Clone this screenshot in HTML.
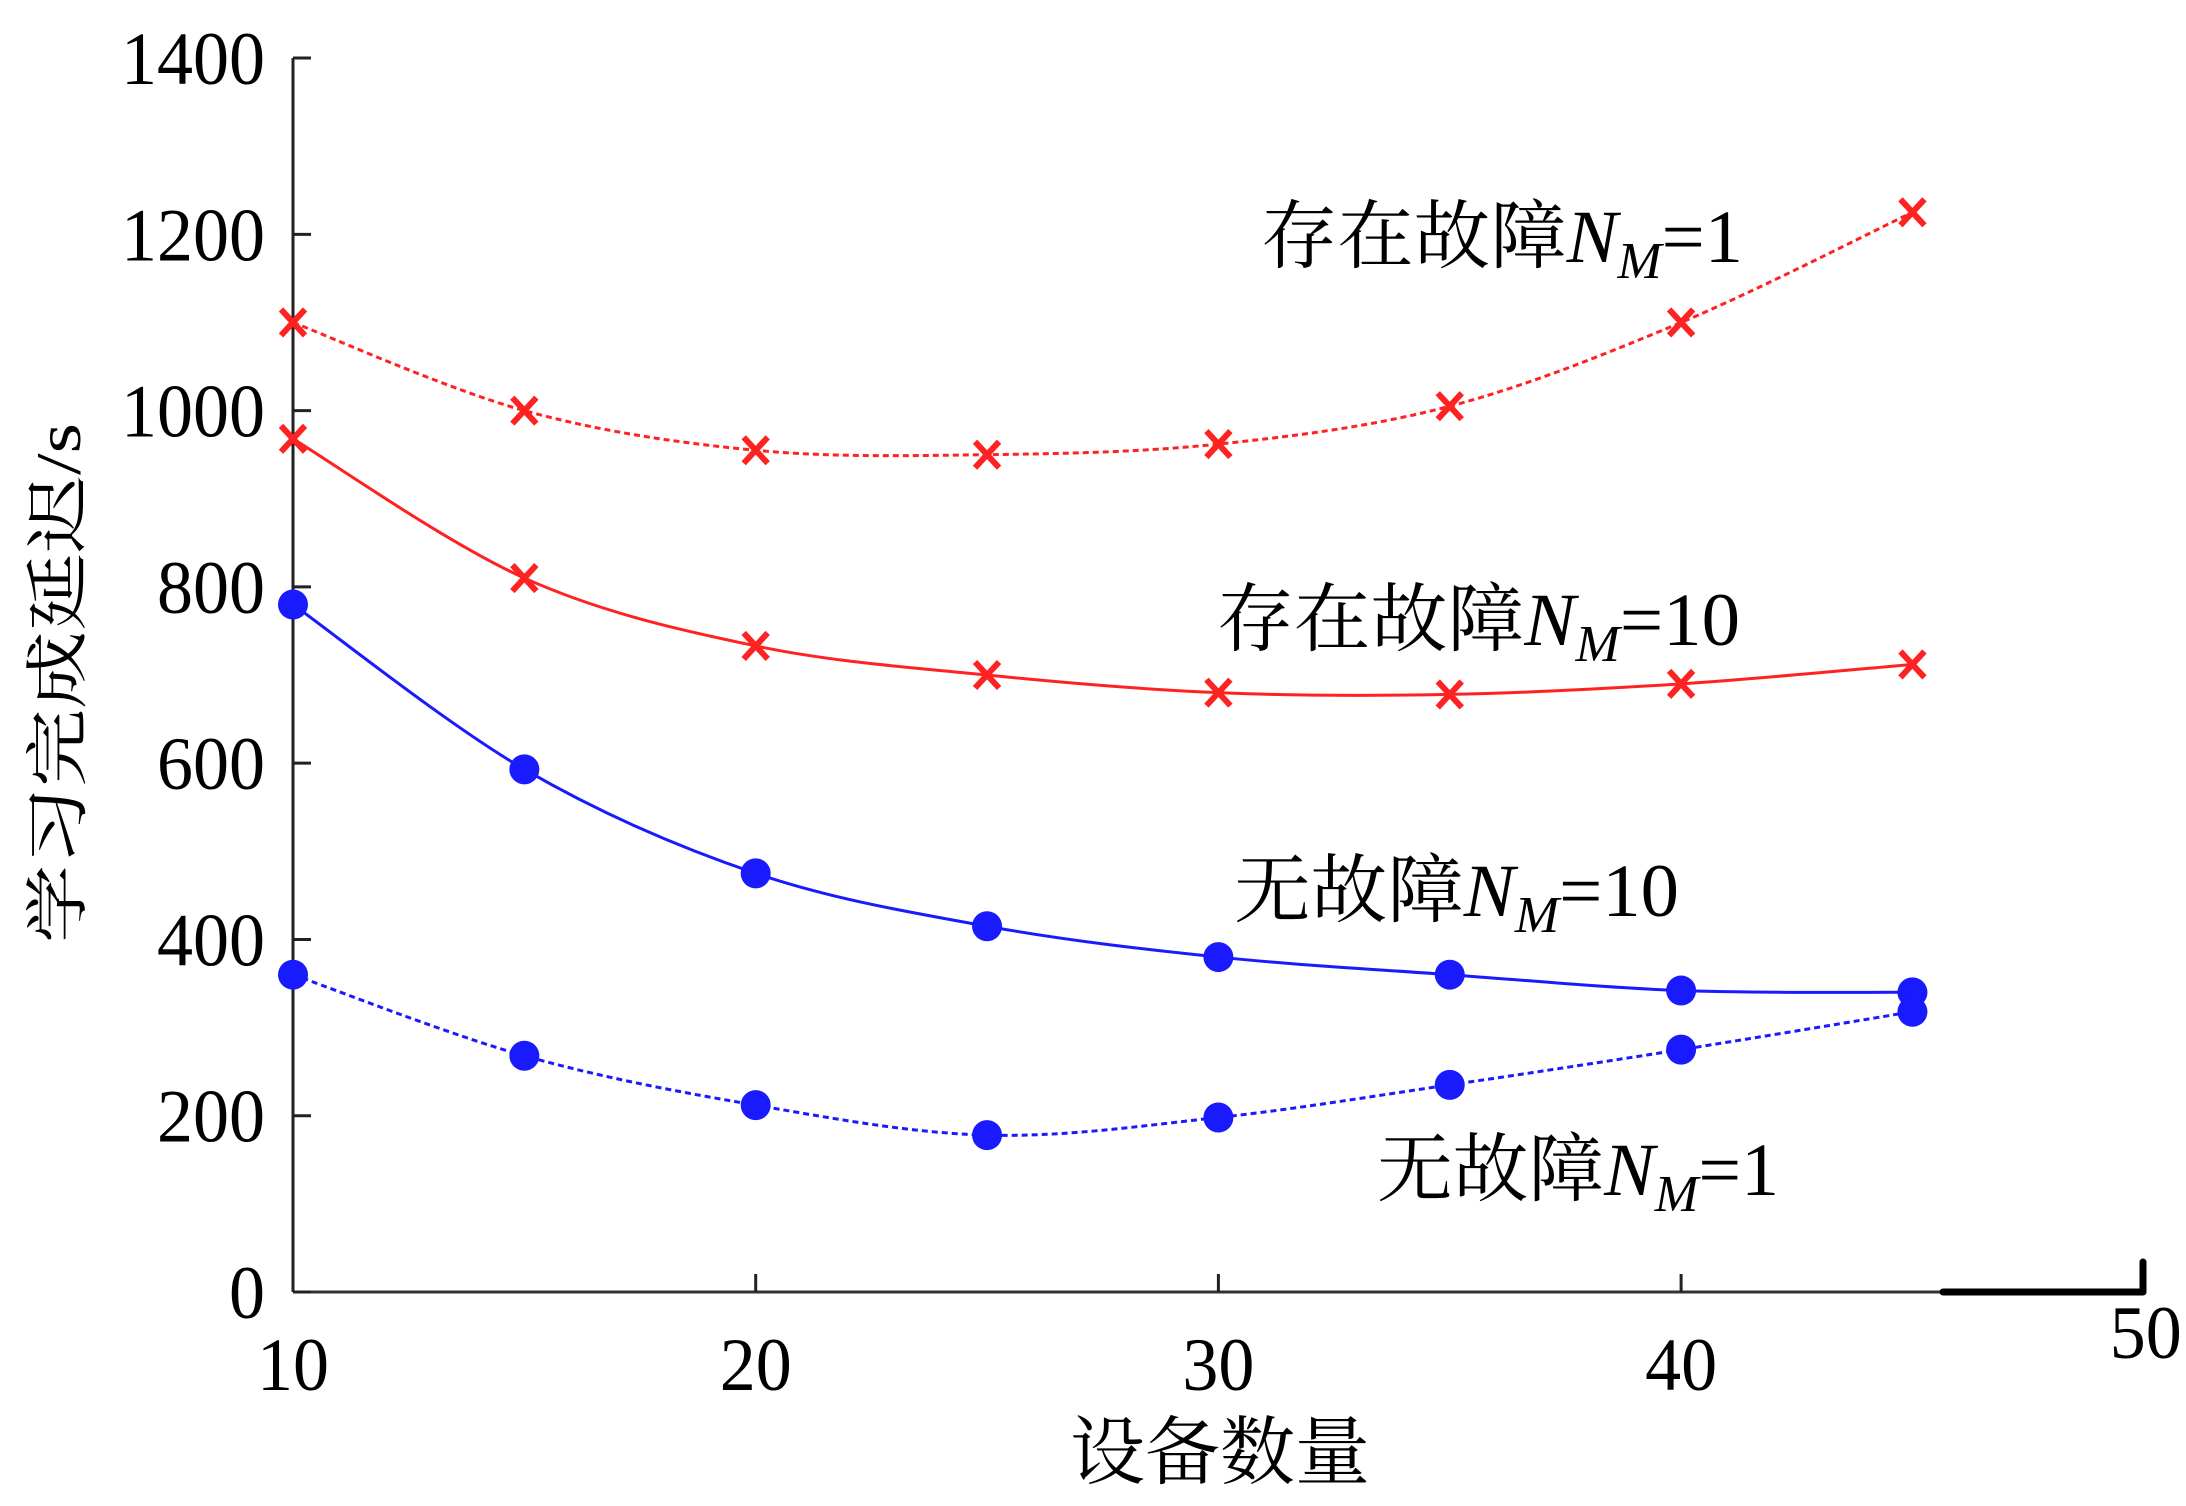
<!DOCTYPE html>
<html><head><meta charset="utf-8"><style>body{margin:0;background:#fff}svg{display:block}</style></head>
<body>
<svg id="chart" width="2186" height="1506" viewBox="0 0 2186 1506" xmlns="http://www.w3.org/2000/svg">
<g id="axes"></g>
<g id="series"></g>
<g id="labels"></g>
</svg>
<script>
const categories=[10,15,20,25,30,35,40,45];
const faultN1=[1100,1000,955,950,962,1005,1100,1225];
const faultN10=[968,810,733,700,680,678,690,712];
const okN10=[780,593,475,415,380,360,342,340];
const okN1=[360,268,212,178,198,235,275,318];
const yTicks=[0,200,400,600,800,1000,1200,1400];
const xTickLabels=[10,20,30,40,50];

const NS='http://www.w3.org/2000/svg';
const X=v=>293+(v-10)*46.27;
const Y=v=>1292-v*0.8814;
function mk(tag,attrs,parent){const e=document.createElementNS(NS,tag);for(const k in attrs)e.setAttribute(k,attrs[k]);parent.appendChild(e);return e;}
const axes=document.getElementById('axes'),series=document.getElementById('series'),labels=document.getElementById('labels');
const serif='"Liberation Serif","Noto Serif CJK SC",serif';

let a=mk('line',{x1:293,y1:Y(1400),x2:293,y2:Y(0),stroke:'#222','stroke-width':3},axes);

a=mk('line',{x1:293,y1:Y(0),x2:1943,y2:Y(0),stroke:'#333','stroke-width':3},axes);

a=mk('polyline',{points:`1943,${Y(0)} 2143,${Y(0)} 2143,1262`,fill:'none',stroke:'#000','stroke-width':7,'stroke-linecap':'round','stroke-linejoin':'round'},axes);


yTicks.forEach(v=>{
  const t=mk('line',{x1:293,y1:Y(v),x2:311,y2:Y(v),stroke:'#222','stroke-width':3},axes);
  
  const s=String(v);
  const l=mk('text',{x:265,y:Y(v)+26,'text-anchor':'end','font-family':serif,'font-size':75,textLength:36*s.length,lengthAdjust:'spacingAndGlyphs'},axes);
  l.textContent=s;
  
});
xTickLabels.forEach(v=>{
  if(v>10&&v<50){const t=mk('line',{x1:X(v),y1:Y(0),x2:X(v),y2:Y(0)-18,stroke:'#222','stroke-width':3},axes);
  }
  const l=mk('text',{x:v===50?X(v)+2:X(v),y:v===50?1358:1390,'text-anchor':'middle','font-family':serif,'font-size':75,textLength:72,lengthAdjust:'spacingAndGlyphs'},axes);
  l.textContent=String(v);
  
});
let yt=mk('text',{x:0,y:0,transform:'translate(80,683) rotate(-90)','text-anchor':'middle','font-family':serif,'font-size':64,textLength:520,lengthAdjust:'spacingAndGlyphs'},labels);
yt.textContent='学习完成延迟/s';

let xt=mk('text',{x:1220,y:1478,'text-anchor':'middle','font-family':serif,'font-size':75,textLength:300,lengthAdjust:'spacingAndGlyphs'},labels);
xt.textContent='设备数量';


function smoothPath(P){
  let d=`M${P[0][0]},${P[0][1]}`;
  for(let i=0;i<P.length-1;i++){
    const p0=P[Math.max(0,i-1)],p1=P[i],p2=P[i+1],p3=P[Math.min(P.length-1,i+2)];
    const c1=[p1[0]+(p2[0]-p0[0])/6,p1[1]+(p2[1]-p0[1])/6];
    const c2=[p2[0]-(p3[0]-p1[0])/6,p2[1]-(p3[1]-p1[1])/6];
    d+=`C${c1[0]},${c1[1]} ${c2[0]},${c2[1]} ${p2[0]},${p2[1]}`;
  }
  return d;
}
function drawSeries(vals,color,dashed,marker,name){
  const P=vals.map((v,i)=>[X(categories[i]),Y(v)]);
  const p=mk('path',{d:smoothPath(P),fill:'none',stroke:color,'stroke-width':3,'stroke-dasharray':dashed?'6 4':'none'},series);
  
  vals.forEach((v,i)=>{
    const cx=X(categories[i]),cy=Y(v);
    if(marker==='x'){
      const m=mk('path',{d:`M${cx-12},${cy-13}L${cx+12},${cy+13}M${cx-12},${cy+13}L${cx+12},${cy-13}`,stroke:color,'stroke-width':6,fill:'none'},series);
      
    }else{
      const m=mk('circle',{cx:cx,cy:cy,r:15,fill:color},series);
      
    }
  });
}
drawSeries(faultN1,'#f22',true,'x','fault-nm1');
drawSeries(faultN10,'#f22',false,'x','fault-nm10');
drawSeries(okN10,'#1a1aff',false,'o','nofault-nm10');
drawSeries(okN1,'#1a1aff',true,'o','nofault-nm1');

function ann(x,y,cjk,rest,w,name){
  const t=mk('text',{x:x,y:y,'font-family':serif,'font-size':75,textLength:w,lengthAdjust:'spacingAndGlyphs'},labels);
  
  const s1=mk('tspan',{},t);s1.textContent=cjk;
  const s2=mk('tspan',{'font-style':'italic'},t);s2.textContent='N';
  const s3=mk('tspan',{'font-style':'italic','font-size':52,dy:16},t);s3.textContent='M';
  const s4=mk('tspan',{dy:-16},t);s4.textContent=rest;
}
ann(1261,262,'存在故障','=1',482,'label-fault-nm1');
ann(1217,645,'存在故障','=10',523,'label-fault-nm10');
ann(1234,916,'无故障','=10',445,'label-nofault-nm10');
ann(1377,1195,'无故障','=1',402,'label-nofault-nm1');
</script>
</body></html>
